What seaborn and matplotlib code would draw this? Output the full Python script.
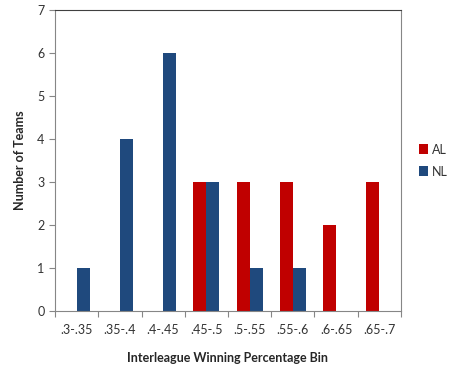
import matplotlib
matplotlib.use('Agg')
import matplotlib.pyplot as plt
import seaborn as sns
import pandas as pd

# winning percentage bins and team counts per league
bins = ['.3-.35', '.35-.4', '.4-.45', '.45-.5', '.5-.55', '.55-.6', '.6-.65', '.65-.7']
al_counts = [0, 0, 0, 3, 3, 3, 2, 3]
nl_counts = [1, 4, 6, 3, 1, 1, 0, 0]
leagues = ['AL', 'NL']
colors = {'AL': '#C00000', 'NL': '#1F497D'}

df = pd.DataFrame({
    'bin': bins * 2,
    'league': ['AL'] * len(bins) + ['NL'] * len(bins),
    'teams': al_counts + nl_counts,
})

sns.set_style('white')
plt.rcParams['font.family'] = ['Lato', 'DejaVu Sans']

fig = plt.figure(figsize=(4.55, 3.73), dpi=100)
ax = fig.add_axes([0.121, 0.166, 0.76, 0.807])

sns.barplot(data=df, x='bin', y='teams', hue='league', hue_order=leagues,
            order=bins, palette=colors, width=0.6, gap=0, linewidth=0,
            saturation=1, ax=ax)

ax.set_xlim(-0.5, len(bins) - 0.5)
ax.set_ylim(0, 7)
ax.set_yticks(range(0, 8))

# tick marks on category boundaries, labels in the middle
ax.set_xticks([i - 0.5 for i in range(len(bins) + 1)], minor=True)
ax.tick_params(axis='x', which='major', length=0, pad=9, labelsize=9, colors='#333333')
ax.tick_params(axis='x', which='minor', length=4, width=0.8, color='#868686', bottom=True)
ax.tick_params(axis='y', which='major', length=4, width=0.8, color='#868686',
               left=True, labelsize=9, labelcolor='#333333')

for side in ['left', 'right', 'bottom']:
    ax.spines[side].set_color('#868686')
    ax.spines[side].set_linewidth(0.8)
ax.spines['top'].set_color('#404040')
ax.spines['top'].set_linewidth(0.8)

ax.set_xlabel('Interleague Winning Percentage Bin', fontsize=9, fontweight='bold', labelpad=12)
ax.set_ylabel('Number of Teams', fontsize=9, fontweight='bold', labelpad=8)

handles, labels = ax.get_legend_handles_labels()
ax.legend(handles, labels, loc='center left', bbox_to_anchor=(1.02, 0.5), frameon=False,
          fontsize=9, handlelength=0.7, handleheight=0.8, handletextpad=0.3,
          labelspacing=0.8, labelcolor='#333333')

fig.savefig('out.png', dpi=100)
